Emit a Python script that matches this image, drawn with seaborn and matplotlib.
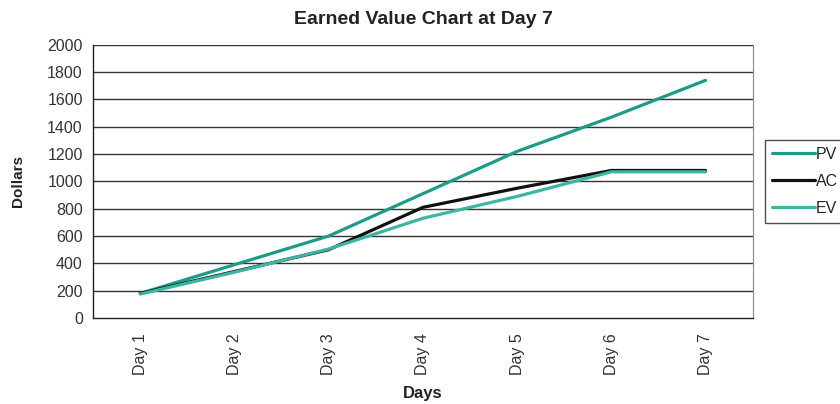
import matplotlib
matplotlib.use("Agg")
import matplotlib.pyplot as plt
import seaborn as sns
import pandas as pd
import numpy as np

days = ["Day 1", "Day 2", "Day 3", "Day 4", "Day 5", "Day 6", "Day 7"]
pv = [180, 390, 600, 910, 1220, 1470, 1740]
ac = [180, 340, 500, 810, 950, 1080, 1080]
ev = [175, 335, 505, 730, 890, 1070, 1070]
series = ["PV", "AC", "EV"]
colors = {"PV": "#1a9c86", "AC": "#111111", "EV": "#3db5a2"}

sns.set_style("white")
plt.rcParams['font.family'] = ['Liberation Sans', 'DejaVu Sans']

rows = []
for name, vals in zip(series, [pv, ac, ev]):
    for i, v in enumerate(vals):
        rows.append({"pos": i, "Day": days[i], "Series": name, "Value": v})
df = pd.DataFrame(rows)

fig = plt.figure(figsize=(8.4, 4.04), dpi=100)
ax = fig.add_axes([0.111, 0.213, 0.785, 0.676])

# horizontal gridlines
for yv in range(200, 2001, 200):
    ax.axhline(yv, color="#333333", lw=1.0, zorder=0)

sns.lineplot(data=df, x="pos", y="Value", hue="Series", hue_order=["PV", "AC", "EV"],
             palette=colors, linewidth=2.3, ax=ax, legend=True, sort=False)

ax.set_xlim(-0.5, 6.5)
ax.set_ylim(0, 2000)
ax.set_yticks(range(0, 2001, 200))
ax.set_yticklabels([str(v) for v in range(0, 2001, 200)], fontsize=11.5, color="#333333")
ax.set_xticks(range(7))
ax.set_xticklabels(days, rotation=90, fontsize=11.5, color="#333333")
ax.set_xticks(np.arange(-0.5, 7, 1), minor=True)
ax.tick_params(axis="x", which="major", length=0, pad=11)
ax.tick_params(axis="x", which="minor", length=5, direction="out", color="#222222")
ax.tick_params(axis="y", length=5, direction="inout", color="#222222", pad=5)

for side in ["left", "bottom"]:
    ax.spines[side].set_color("#222222")
    ax.spines[side].set_linewidth(1.0)
ax.spines["right"].set_color("#888888")
ax.spines["right"].set_linewidth(0.8)
ax.spines["top"].set_visible(False)

ax.set_xlabel("Days", fontsize=12, fontweight="bold", labelpad=8, color="#222222")
ax.set_ylabel("Dollars", fontsize=11, fontweight="bold", labelpad=16, color="#222222")
ax.set_title("Earned Value Chart at Day 7", fontsize=14, fontweight="bold", pad=15, color="#222222")

leg = ax.legend(title=None, loc="center left", bbox_to_anchor=(1.018, 0.5), frameon=True,
                fancybox=False, edgecolor="#222222", fontsize=11.5, handlelength=2.7,
                handletextpad=0.05, borderpad=0.45, labelspacing=0.75, borderaxespad=0)
leg.get_frame().set_linewidth(1.0)

fig.savefig("out.png", dpi=100)
